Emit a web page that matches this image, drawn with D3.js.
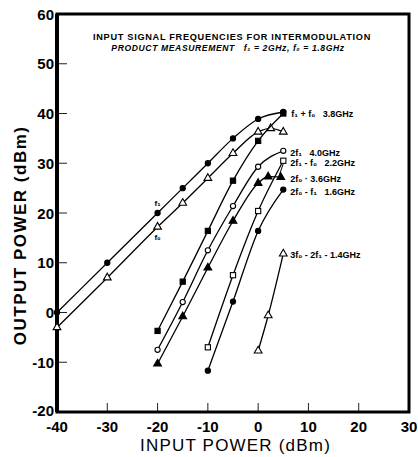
<!DOCTYPE html>
<html lang="en">
<head>
<meta charset="UTF-8">
<title>Intermodulation Products</title>
<script src="https://d3js.org/d3.v7.min.js"></script>
<style>
  body { margin: 0; background: #fff; }
  svg { font-family: "Liberation Sans", Arial, sans-serif; }
  text { white-space: pre; }
</style>
</head>
<body>
<svg id="chart" width="418" height="457"></svg>
<script>
// fundamentals
const f1Data = [[-40, 0], [-30, 10], [-20, 20], [-15, 25], [-10, 30], [-5, 35], [0, 38.9], [5, 40.3]];
const f0Data = [[-40, -3], [-30, 7], [-20, 17.2], [-15, 22], [-10, 27], [-5, 32], [0, 36.3], [2.5, 37], [5, 36.3]];
// intermod products
const sumData = [[-20, -3.7], [-15, 6.2], [-10, 16.4], [-5, 26.5], [0, 34.5], [5, 40]];
const harm2f1Data = [[-20, -7.5], [-15, 2.1], [-10, 12.5], [-5, 21.4], [0, 29.3], [5, 32.5]];
const im2f1f0Data = [[-10, -7], [-5, 7.5], [0, 20.4], [5, 30.5]];
const harm2f0Data = [[-20, -10.3], [-15, -0.8], [-10, 9], [-5, 18.4], [0, 26], [2, 27.3], [4.5, 27.2]];
const im2f0f1Data = [[-10, -11.7], [-5, 2.2], [0, 16.4], [5, 24.7]];
const im3Data = [[0, -7.7], [2, -0.6], [5, 11.8]];

const xTicks = [-40, -30, -20, -10, 0, 10, 20, 30];
const yTicks = [-20, -10, 0, 10, 20, 30, 40, 50, 60];

const series = [
  { data: f1Data, marker: "circle", filled: true },
  { data: f0Data, marker: "triangle", filled: false },
  { data: sumData, marker: "square", filled: true },
  { data: harm2f1Data, marker: "circle", filled: false },
  { data: im2f1f0Data, marker: "square", filled: false },
  { data: harm2f0Data, marker: "triangle", filled: true },
  { data: im2f0f1Data, marker: "circle", filled: true },
  { data: im3Data, marker: "triangle", filled: false }
];

const labels = [
  { text: "f\u2081 + f\u2080   3.8GHz", x: 6.6, y: 39.9 },
  { text: "2f\u2081   4.0GHz", x: 6.4, y: 32.2 },
  { text: "2f\u2081 - f\u2080   2.2GHz", x: 6.4, y: 30.2 },
  { text: "2f\u2080 \u00b7 3.6GHz", x: 6.4, y: 27.0 },
  { text: "2f\u2080 - f\u2081   1.6GHz", x: 6.4, y: 24.4 },
  { text: "3f\u2080 - 2f\u2081 - 1.4GHz", x: 6.4, y: 11.7 }
];

const svg = d3.select("#chart");
const x = d3.scaleLinear().domain([-40, 30]).range([57, 409]);
const y = d3.scaleLinear().domain([-20, 60]).range([412, 14]);

// ticks inside the frame
svg.append("g").selectAll("line").data(yTicks.slice(1, -1)).enter().append("line")
  .attr("x1", x(-40)).attr("x2", x(-40) + 10)
  .attr("y1", d => y(d)).attr("y2", d => y(d))
  .attr("stroke", "#222").attr("stroke-width", 1);
svg.append("g").selectAll("line").data(xTicks.slice(1, -1)).enter().append("line")
  .attr("x1", d => x(d)).attr("x2", d => x(d))
  .attr("y1", y(-20)).attr("y2", y(-20) - 9)
  .attr("stroke", "#222").attr("stroke-width", 1);

// frame
svg.append("rect").attr("x", x(-40)).attr("y", y(60))
  .attr("width", x(30) - x(-40)).attr("height", y(-20) - y(60))
  .attr("fill", "none").attr("stroke", "#000").attr("stroke-width", 3);
svg.append("line").attr("x1", x(-40)).attr("x2", x(-40)).attr("y1", y(60)).attr("y2", y(-20))
  .attr("stroke", "#000").attr("stroke-width", 4);

// tick labels
svg.append("g").selectAll("text").data(yTicks).enter().append("text")
  .attr("x", x(-40) - 3).attr("y", d => y(d) + (d === -20 ? 4 : 5.5))
  .attr("text-anchor", "end").attr("font-size", 15).attr("font-weight", "bold").text(d => d);
svg.append("g").selectAll("text").data(xTicks).enter().append("text")
  .attr("x", d => x(d)).attr("y", y(-20) + 20)
  .attr("text-anchor", "middle").attr("font-size", 15).attr("font-weight", "bold").text(d => d);

// axis titles
svg.append("text").attr("x", x(-4.5)).attr("y", 451)
  .attr("text-anchor", "middle").attr("font-size", 17).attr("letter-spacing", 1.2)
  .text("INPUT POWER (dBm)");
svg.append("text").attr("transform", `translate(26,${y(15.5)}) rotate(-90)`)
  .attr("text-anchor", "middle").attr("font-size", 17).attr("font-weight", "bold")
  .attr("letter-spacing", 1.5).text("OUTPUT POWER (dBm)");

// chart title
svg.append("text").attr("x", 232).attr("y", 40).attr("text-anchor", "middle")
  .attr("font-size", 9.2).attr("font-weight", "bold").attr("letter-spacing", 0.7)
  .text("INPUT SIGNAL FREQUENCIES FOR INTERMODULATION");
svg.append("text").attr("x", 228).attr("y", 51).attr("text-anchor", "middle")
  .attr("font-size", 8.6).attr("font-weight", "bold").attr("font-style", "italic").attr("letter-spacing", 0.6)
  .text("PRODUCT MEASUREMENT   f\u2081 = 2GHz, f\u2080 = 1.8GHz");

// curves
const line = d3.line().x(d => x(d[0])).y(d => y(d[1])).curve(d3.curveMonotoneX);
const tri = d3.symbol().type(d3.symbolTriangle).size(26);

series.forEach(s => {
  svg.append("path").datum(s.data).attr("d", line)
    .attr("fill", "none").attr("stroke", "#000").attr("stroke-width", 1.3);
  const g = svg.append("g").selectAll("g").data(s.data).enter().append("g")
    .attr("transform", d => `translate(${x(d[0])},${y(d[1])})`);
  const fill = s.filled ? "#000" : "#fff";
  if (s.marker === "circle") {
    g.append("circle").attr("r", 2.6).attr("fill", fill).attr("stroke", "#000").attr("stroke-width", 1.1);
  } else if (s.marker === "square") {
    g.append("rect").attr("x", -2.6).attr("y", -2.6).attr("width", 5.2).attr("height", 5.2)
      .attr("fill", fill).attr("stroke", "#000").attr("stroke-width", 1.1);
  } else {
    g.append("path").attr("d", tri).attr("fill", fill).attr("stroke", "#000").attr("stroke-width", 1.1);
  }
});

// bracket from 2f1-f0 label marker to 2f0 marker
svg.append("path")
  .attr("d", `M${x(5)},${y(30.5) + 3} L${x(4.2)},${y(27.6)} L${x(4.5)},${y(27.2)}`)
  .attr("fill", "none").attr("stroke", "#000").attr("stroke-width", 1);

// product labels
svg.append("g").selectAll("text").data(labels).enter().append("text")
  .attr("x", d => x(d.x)).attr("y", d => y(d.y) + 3.5)
  .attr("font-size", 9).attr("font-weight", "bold").text(d => d.text);

// fundamental tags
svg.append("text").attr("x", x(-20)).attr("y", y(21.5)).attr("text-anchor", "middle")
  .attr("font-size", 8).attr("font-weight", "bold").text("f\u2081");
svg.append("text").attr("x", x(-20)).attr("y", y(14.5)).attr("text-anchor", "middle")
  .attr("font-size", 8).attr("font-weight", "bold").text("f\u2080");
</script>
</body>
</html>
